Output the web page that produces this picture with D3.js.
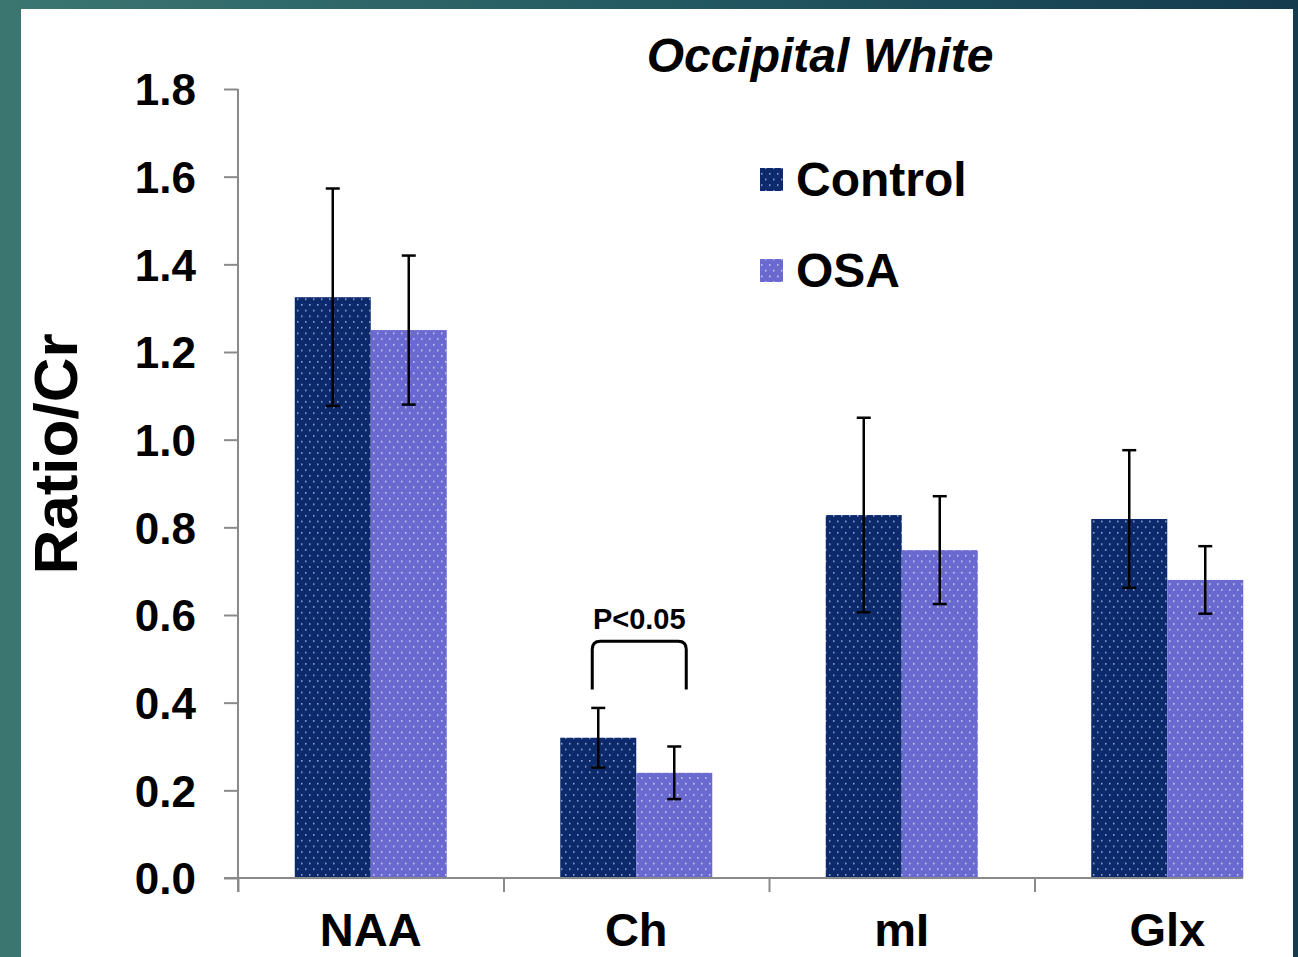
<!DOCTYPE html>
<html><head><meta charset="utf-8">
<script src="https://cdn.jsdelivr.net/npm/d3@7"></script>
<style>html,body{margin:0;padding:0;overflow:hidden;background:#fff}</style>
</head><body>
<script>
const categories = ["NAA", "Ch", "mI", "Glx"];
const seriesNames = ["Control", "OSA"];
const controlValues = [1.325, 0.32, 0.828, 0.819];
const controlErrors = [0.248, 0.068, 0.222, 0.157];
const osaValues = [1.25, 0.24, 0.748, 0.68];
const osaErrors = [0.17, 0.06, 0.123, 0.077];
const yTicks = [0, 0.2, 0.4, 0.6, 0.8, 1.0, 1.2, 1.4, 1.6, 1.8];
const titleText = "Occipital White";
const yAxisTitle = "Ratio/Cr";
const sigLabel = "P<0.05";
const sigCategory = "Ch";

const W = 1298, H = 957;
const svg = d3.select("body").append("svg").attr("width", W).attr("height", H);
const defs = svg.append("defs");

const bg = defs.append("linearGradient").attr("id", "bg").attr("x1", "0").attr("y1", "0").attr("x2", "1").attr("y2", "0");
bg.append("stop").attr("offset", "0").attr("stop-color", "#3c7671");
bg.append("stop").attr("offset", "0.5").attr("stop-color", "#235a62");
bg.append("stop").attr("offset", "1").attr("stop-color", "#143b4e");
svg.append("rect").attr("width", W).attr("height", H).attr("fill", "url(#bg)");
svg.append("rect").attr("x", 21).attr("y", 9).attr("width", 1272).attr("height", H - 9).attr("fill", "#fff");

const colors = {Control: {base: "#0c296b", dot: "#9fb2e0"}, OSA: {base: "#6a69cf", dot: "#d4d4f6"}};
seriesNames.forEach(s => {
  const p = defs.append("pattern").attr("id", "pat" + s).attr("patternUnits", "userSpaceOnUse")
    .attr("width", 8).attr("height", 11.4);
  p.append("rect").attr("width", 8).attr("height", 11.4).attr("fill", colors[s].base);
  p.append("rect").attr("x", 1).attr("y", 2).attr("width", 1.5).attr("height", 1.5).attr("fill", colors[s].dot);
  p.append("rect").attr("x", 5).attr("y", 7.7).attr("width", 1.5).attr("height", 1.5).attr("fill", colors[s].dot);
});

const y = d3.scaleLinear().domain([0, 1.8]).range([878, 89]);
const x0 = d3.scaleBand().domain(categories).range([238, 1300]).padding(0);
const groupW = 152;
const x1 = d3.scaleBand().domain(seriesNames).range([0, groupW]).padding(0);
const gx = c => x0(c) + x0.bandwidth() / 2 - groupW / 2;

const data = [];
categories.forEach((c, i) => {
  data.push({cat: c, s: "Control", v: controlValues[i], e: controlErrors[i]});
  data.push({cat: c, s: "OSA", v: osaValues[i], e: osaErrors[i]});
});

// bars
svg.append("g").selectAll("rect").data(data).join("rect")
  .attr("x", d => gx(d.cat) + x1(d.s))
  .attr("y", d => y(d.v))
  .attr("width", x1.bandwidth())
  .attr("height", d => y(0) - y(d.v))
  .attr("fill", d => "url(#pat" + d.s + ")");

// error bars
const eg = svg.append("g").attr("stroke", "#000").attr("stroke-width", 2.5).attr("fill", "none");
data.forEach(d => {
  const cx = gx(d.cat) + x1(d.s) + x1.bandwidth() / 2;
  eg.append("line").attr("x1", cx).attr("x2", cx).attr("y1", y(d.v + d.e)).attr("y2", y(d.v - d.e));
  eg.append("line").attr("x1", cx - 7).attr("x2", cx + 7).attr("y1", y(d.v + d.e)).attr("y2", y(d.v + d.e));
  eg.append("line").attr("x1", cx - 7).attr("x2", cx + 7).attr("y1", y(d.v - d.e)).attr("y2", y(d.v - d.e));
});

// y axis
const yAxis = d3.axisLeft(y).tickValues(yTicks).tickFormat(d3.format(".1f")).tickSize(14).tickPadding(28);
const ya = svg.append("g").attr("transform", "translate(238,0)").call(yAxis);
ya.select(".domain").remove();
ya.selectAll(".tick line").attr("stroke", "#8a8a8a").attr("stroke-width", 2);
ya.selectAll("text").attr("font-family", "Liberation Sans, Arial, sans-serif").attr("font-weight", "bold")
  .attr("font-size", 44).attr("fill", "#000").attr("dy", "0.36em");
svg.append("line").attr("x1", 238).attr("x2", 238).attr("y1", y(1.8)).attr("y2", 892)
  .attr("stroke", "#8a8a8a").attr("stroke-width", 2);

// x axis
const xb = d3.scaleLinear().domain([0, categories.length]).range([238, 1300]);
const xa = svg.append("g").attr("transform", "translate(0,878)")
  .call(d3.axisBottom(xb).tickValues([0, 1, 2, 3]).tickFormat("").tickSize(14));
xa.select(".domain").remove();
xa.selectAll(".tick line").attr("stroke", "#8a8a8a").attr("stroke-width", 2);
svg.append("line").attr("x1", 224).attr("x2", 1243).attr("y1", 878).attr("y2", 878)
  .attr("stroke", "#8a8a8a").attr("stroke-width", 2);
const xl = svg.append("g").attr("transform", "translate(0,878)")
  .call(d3.axisBottom(x0).tickSize(0).tickPadding(35));
xl.select(".domain").remove();
xl.selectAll("text").attr("font-family", "Liberation Sans, Arial, sans-serif").attr("font-weight", "bold")
  .attr("font-size", 47).attr("fill", "#000");

// y title
svg.append("text").attr("transform", "translate(77,454) rotate(-90)").attr("text-anchor", "middle")
  .attr("font-family", "Liberation Sans, Arial, sans-serif").attr("font-weight", "bold")
  .attr("font-size", 62).attr("fill", "#000").text(yAxisTitle);

// title
svg.append("text").attr("x", 820).attr("y", 72).attr("text-anchor", "middle")
  .attr("font-family", "Liberation Sans, Arial, sans-serif").attr("font-weight", "bold").attr("font-style", "italic")
  .attr("font-size", 48).attr("fill", "#000").text(titleText);

// legend
seriesNames.forEach((s, i) => {
  const ly = 179 + i * 91;
  svg.append("rect").attr("x", 760).attr("y", ly - 11).attr("width", 23).attr("height", 23).attr("fill", "url(#pat" + s + ")");
  svg.append("text").attr("x", 796).attr("y", ly + 17).attr("font-family", "Liberation Sans, Arial, sans-serif")
    .attr("font-weight", "bold").attr("font-size", 48).attr("fill", "#000").text(s);
});

// significance bracket
const bl = gx(sigCategory) + x1("Control") + x1.bandwidth() / 2 - 6;
const br = gx(sigCategory) + x1("OSA") + x1.bandwidth() / 2 + 12;
const bt = y(0.54), bb = y(0.43);
svg.append("path").attr("d", `M${bl},${bb} L${bl},${bt + 8} Q${bl},${bt} ${bl + 8},${bt} L${br - 8},${bt} Q${br},${bt} ${br},${bt + 8} L${br},${bb}`)
  .attr("fill", "none").attr("stroke", "#000").attr("stroke-width", 3);
svg.append("text").attr("x", (bl + br) / 2).attr("y", y(0.567)).attr("text-anchor", "middle")
  .attr("font-family", "Liberation Sans, Arial, sans-serif").attr("font-weight", "bold")
  .attr("font-size", 29).attr("fill", "#000").text(sigLabel);
</script>
</body></html>
